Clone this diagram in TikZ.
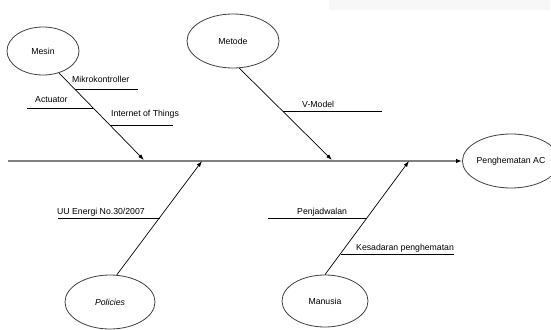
\documentclass[tikz,border=0pt]{standalone}
\usepackage{fontspec}
\setmainfont{Liberation Sans}
\usetikzlibrary{shapes.geometric,arrows.meta}

\begin{document}
\begin{tikzpicture}[x=1pt,y=-1pt,font=\fontsize{8.7}{10}\selectfont]
    \tikzset{Bone/.style = {ellipse, draw=black!75, line width=0.8pt, inner sep=0pt}}
    \tikzset{Rib/.style = {line width=0.7pt, -{Latex[length=6pt,width=4pt]}}}
    \tikzset{Twig/.style = {line width=0.6pt}}
    \tikzset{Label/.style = {anchor=west, inner sep=0pt}}

    \useasboundingbox (0,0) rectangle (551,329);
    \fill[black!3] (329,0) rectangle (550,10);

    \node[Bone, minimum width=72pt, minimum height=48pt] (Mesin) at (43,51) {Mesin};
    \node[Bone, minimum width=92pt, minimum height=54pt] (Metode) at (233,41) {Metode};
    \node[Bone, minimum width=90pt, minimum height=54pt] (Policies) at (110,302) {\itshape Policies};
    \node[Bone, minimum width=86pt, minimum height=52pt] (Manusia) at (325,301) {Manusia};
    \node[Bone, minimum width=80pt, minimum height=54pt] (Hemat) at (511,161) {Penghematan AC};

    \coordinate (Tail) at (8,161);
    \coordinate (TMesin) at (144,160);
    \coordinate (TMetode) at (332,160);
    \coordinate (TPolicies) at (202,161);
    \coordinate (TManusia) at (409,161);

    % spine
    \draw[black!50, line width=1.4pt, -{Latex[length=6pt,width=4.5pt,black]}] (Tail) -- (Hemat.west);

    \draw[Rib] (Mesin.-54) -- (TMesin);
    \draw[Rib] (Metode.-77) -- (TMetode);
    \draw[Rib] (Policies.76) -- (TPolicies);
    \draw[Rib] (Manusia.90) -- (TManusia);

    % causes
    \coordinate (M1a) at (74.6,89);  \coordinate (M1b) at (138,89);
    \coordinate (M2a) at (27,108);   \coordinate (M2b) at (93.2,108);
    \coordinate (M3a) at (109.8,125); \coordinate (M3b) at (173,125);
    \coordinate (D1a) at (283,111);  \coordinate (D1b) at (382,111);
    \coordinate (P1a) at (58,218);   \coordinate (P1b) at (159.5,218);
    \coordinate (H1a) at (268,218);  \coordinate (H1b) at (367,218);
    \coordinate (H2a) at (340.5,254); \coordinate (H2b) at (454,254);

    \draw[Twig] (M1a) -- (M1b);
    \draw[Twig] (M2a) -- (M2b);
    \draw[Twig] (M3a) -- (M3b);
    \draw[Twig] (D1a) -- (D1b);
    \draw[Twig] (P1a) -- (P1b);
    \draw[Twig] (H1a) -- (H1b);
    \draw[Twig] (H2a) -- (H2b);

    \node[Label] (Mikro) at (72,79) {Mikrokontroller};
    \node[Label] (Aktu) at (35,100) {Actuator};
    \node[Label] (IoT) at (111,114) {Internet of Things};
    \node[Label] (VModel) at (302,104) {V-Model};
    \node[Label] (UU) at (57,212) {UU Energi No.30/2007};
    \node[Label] (Jadwal) at (297,212) {Penjadwalan};
    \node[Label] (Sadar) at (356,248) {Kesadaran penghematan};

\end{tikzpicture}
\end{document}
